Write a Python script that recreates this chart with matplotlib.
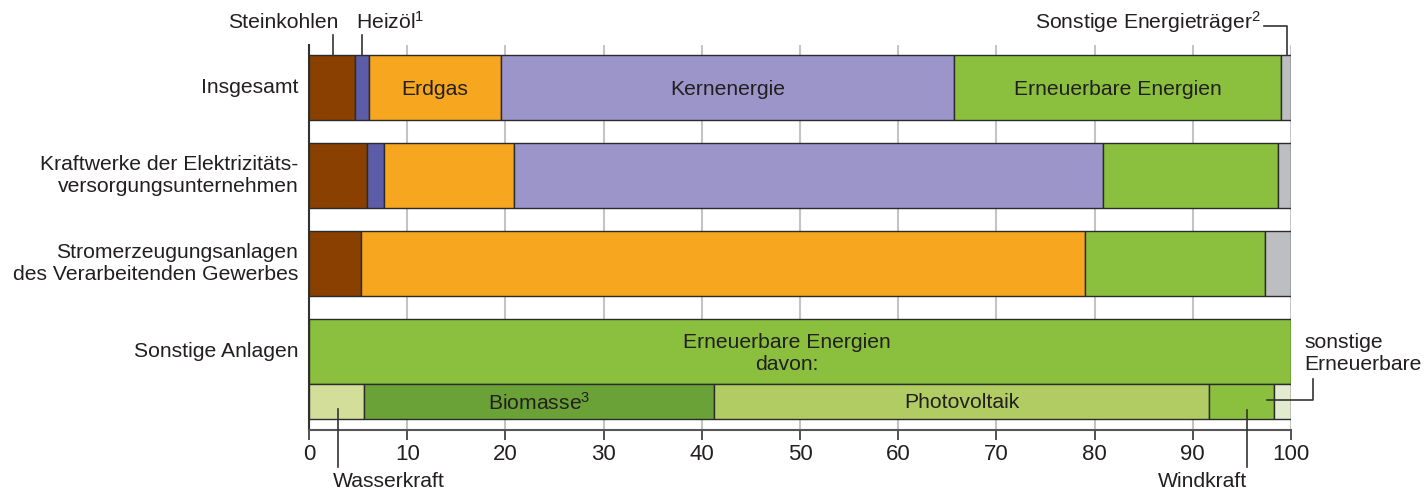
import numpy as np
import matplotlib.pyplot as plt

plt.rcParams['font.family'] = ['Liberation Sans', 'DejaVu Sans']
plt.rcParams['mathtext.fontset'] = 'custom'
plt.rcParams['mathtext.rm'] = 'Liberation Sans'
plt.rcParams['mathtext.default'] = 'rm'

# shares in percent per plant category
categories = ['Insgesamt',
              'Kraftwerke der Elektrizitäts-\nversorgungsunternehmen',
              'Stromerzeugungsanlagen\ndes Verarbeitenden Gewerbes',
              'Sonstige Anlagen']
sources = ['Steinkohlen', 'Heizöl', 'Erdgas', 'Kernenergie',
           'Erneuerbare Energien', 'Sonstige Energieträger']
shares = [
    [4.7, 1.4, 13.5, 46.1, 33.3, 1.0],
    [5.9, 1.7, 13.3, 60.0, 17.8, 1.3],
    [5.3, 0.0, 73.7, 0.0, 18.4, 2.6],
    [0.0, 0.0, 0.0, 0.0, 100.0, 0.0],
]
renew = ['Wasserkraft', 'Biomasse', 'Photovoltaik', 'Windkraft', 'sonstige Erneuerbare']
renew_shares = [5.6, 35.6, 50.5, 6.6, 1.7]
ticks = np.arange(0, 101, 10)

colors = ['#8a4100', '#5d5ca8', '#f6a61f', '#9b95c9', '#8bbf3e', '#bdbec1']
renew_colors = ['#d3de9b', '#6aa237', '#b0cc63', '#8bbf3e', '#e2ead0']
TXT = '#231f20'
EDGE = '#2b2b2b'
FS = 15.2

fig = plt.figure(figsize=(14.25, 4.9), dpi=100)
# axes in pixel-like y units: 45 (top) .. 430 (axis line)
ax = fig.add_axes([309 / 1425, 60 / 490, 982 / 1425, 385 / 490])
ax.set_xlim(0, 100)
ax.set_ylim(430, 45)

ypos = 87.5 + 88 * np.arange(len(categories))
bh = 65

for i, row in enumerate(shares):
    left = 0
    for j, v in enumerate(row):
        if v > 0:
            ax.barh(ypos[i], v, left=left, height=bh, color=colors[j],
                    edgecolor=EDGE, linewidth=1.0, zorder=3)
        left += v
    ax.text(-1.1, ypos[i], categories[i], ha='right', va='center',
            fontsize=FS, color=TXT)

# sub-bar: breakdown of renewables
sub_y = 401.5
left = 0
for j, v in enumerate(renew_shares):
    ax.barh(sub_y, v, left=left, height=35, color=renew_colors[j],
            edgecolor=EDGE, linewidth=1.0, zorder=3)
    left += v

# labels inside bars
cum = np.cumsum([0] + shares[0])
ax.text((cum[2] + cum[3]) / 2, ypos[0] + 2, 'Erdgas', ha='center', va='center', fontsize=FS, color=TXT, zorder=5)
ax.text((cum[3] + cum[4]) / 2, ypos[0] + 2, 'Kernenergie', ha='center', va='center', fontsize=FS, color=TXT, zorder=5)
ax.text((cum[4] + cum[5]) / 2, ypos[0] + 2, 'Erneuerbare Energien', ha='center', va='center', fontsize=FS, color=TXT, zorder=5)
ax.text(48.7, ypos[3] + 2, 'Erneuerbare Energien\ndavon:', ha='center', va='center',
        fontsize=FS, color=TXT, zorder=5)
rc = np.cumsum([0] + renew_shares)
ax.text((rc[1] + rc[2]) / 2, sub_y + 1, 'Biomasse$^3$', ha='center', va='center', fontsize=FS, color=TXT, zorder=5)
ax.text((rc[2] + rc[3]) / 2, sub_y + 1, 'Photovoltaik', ha='center', va='center', fontsize=FS, color=TXT, zorder=5)

# callouts
lk = dict(color='#333333', lw=1.2, clip_on=False, zorder=6)
ax.plot([2.4, 2.4], [35, 55], **lk)
ax.text(2.95, 22, 'Steinkohlen', ha='right', va='center', fontsize=FS, color=TXT)
ax.plot([5.4, 5.4], [35, 55], **lk)
ax.text(4.8, 22, 'Heizöl$^1$', ha='left', va='center', fontsize=FS, color=TXT)
ax.plot([97.3, 99.6, 99.6], [26, 26, 55], **lk)
ax.text(96.9, 22, 'Sonstige Energieträger$^2$', ha='right', va='center', fontsize=FS, color=TXT)

ax.plot([3.0, 3.0], [409, 467], **lk)
ax.text(2.45, 481, 'Wasserkraft', ha='left', va='center', fontsize=FS, color=TXT)
ax.plot([95.5, 95.5], [410, 467], **lk)
ax.text(91.0, 481, 'Windkraft', ha='center', va='center', fontsize=FS, color=TXT)
ax.plot([97.6, 102.2, 102.2], [400, 400, 379], **lk)
ax.text(101.4, 353, 'sonstige\nErneuerbare', ha='left', va='center', fontsize=FS,
        color=TXT)

# axes styling
ax.set_xticks(ticks)
ax.set_yticks([])
ax.grid(axis='x', color='#c4c4c4', linewidth=1.5, zorder=0)
ax.tick_params(axis='x', length=7, width=1.2, color='#333333', labelsize=16,
               labelcolor=TXT, pad=3)
for s in ['top', 'right']:
    ax.spines[s].set_visible(False)
ax.spines['left'].set_color('#333333')
ax.spines['left'].set_linewidth(1.5)
ax.spines['bottom'].set_color('#555555')
ax.spines['bottom'].set_linewidth(1.5)

fig.savefig('out.png', dpi=100)
